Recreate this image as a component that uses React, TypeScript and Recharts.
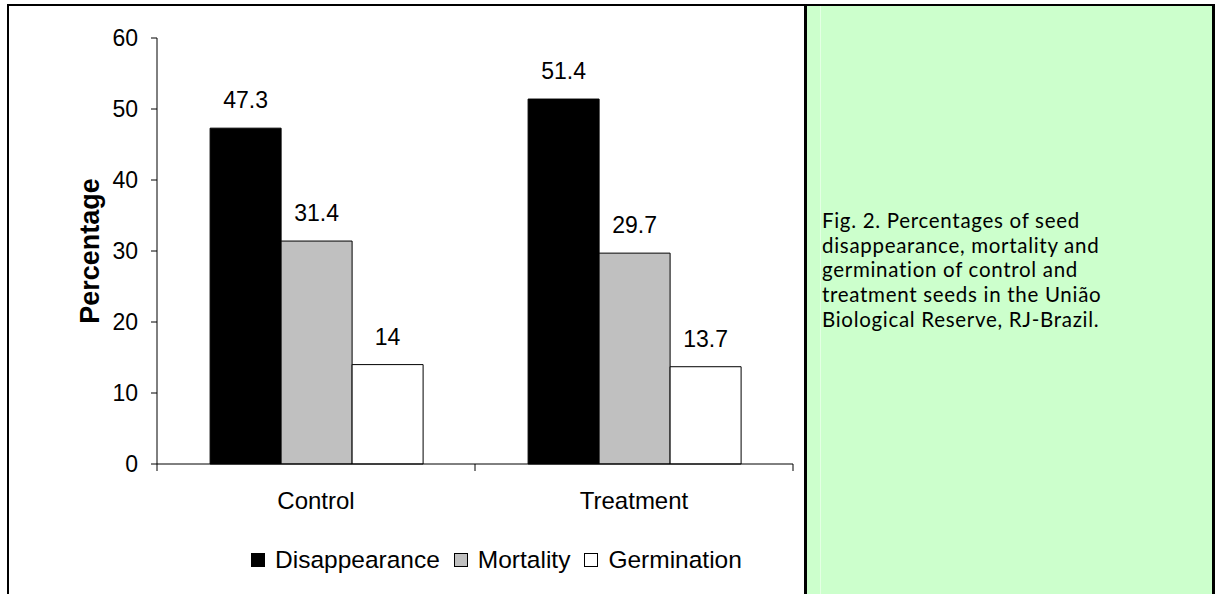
import { Bar, BarChart, LabelList, Legend, XAxis, YAxis } from "recharts"

// groups on the x axis
const categories = ["Control", "Treatment"]
// series (percentage of seeds)
const seriesNames = ["Disappearance", "Mortality", "Germination"]
const seriesColors = ["#000000", "#c0c0c0", "#ffffff"]
const disappearance = [47.3, 51.4]
const mortality = [31.4, 29.7]
const germination = [14, 13.7]
const yTicks = [0, 10, 20, 30, 40, 50, 60]

const captionLines = [
  "Fig. 2. Percentages of seed",
  "disappearance, mortality and",
  "germination of control and",
  "treatment seeds in the União",
  "Biological Reserve, RJ-Brazil.",
]

const data = categories.map((name, i) => ({
  name,
  Disappearance: disappearance[i],
  Mortality: mortality[i],
  Germination: germination[i],
}))

const FONT = "'Liberation Sans', Arial, sans-serif"

function CategoryTick(props: any) {
  const { x, y, payload, index, visibleTicksCount } = props
  const half = payload.offset || 0
  return (
    <g>
      <line x1={x - half} y1={y} x2={x - half} y2={y + 7} stroke="#000" />
      {index === visibleTicksCount - 1 && (
        <line x1={x + half} y1={y} x2={x + half} y2={y + 7} stroke="#000" />
      )}
      <text x={x} y={y + 45} textAnchor="middle" fontSize={24} fontFamily={FONT} fill="#000">
        {payload.value}
      </text>
    </g>
  )
}

function LegendContent(props: any) {
  const payload = [...(props.payload || [])].sort(
    (a: any, b: any) => seriesNames.indexOf(a.value) - seriesNames.indexOf(b.value)
  )
  return (
    <div style={{ display: "flex", alignItems: "center", fontFamily: FONT, fontSize: 24.5, color: "#000" }}>
      {payload.map((entry: any) => (
        <div key={entry.value} style={{ display: "flex", alignItems: "center", marginRight: 14 }}>
          <span
            style={{
              display: "inline-block",
              width: 12,
              height: 12,
              background: entry.color,
              border: "1px solid #000",
              marginRight: 10,
            }}
          />
          <span>{entry.value}</span>
        </div>
      ))}
    </div>
  )
}

export default function App() {
  return (
    <div
      style={{
        position: "absolute",
        left: 0,
        top: 0,
        width: 1216,
        height: 594,
        overflow: "hidden",
        background: "#fff",
      }}
    >
      {/* outer frame, no bottom edge visible */}
      <div
        style={{
          position: "absolute",
          left: 7,
          top: 4,
          width: 1203,
          height: 600,
          borderTop: "2px solid #000",
          borderLeft: "2px solid #000",
          borderRight: "3px solid #000",
        }}
      />
      {/* caption panel */}
      <div
        style={{
          position: "absolute",
          left: 804,
          top: 6,
          width: 408,
          height: 600,
          background: "#ccffcc",
          borderLeft: "3px solid #000",
          boxSizing: "border-box",
        }}
      >
        <div
          style={{
            position: "absolute",
            left: 13,
            top: 0,
            bottom: 0,
            borderLeft: "1px solid #e4ffe4",
          }}
        />
        <div
          style={{
            position: "absolute",
            left: 15,
            top: 202,
            fontFamily: "Lato, 'Open Sans', sans-serif",
            fontSize: 20.5,
            letterSpacing: 0.7,
            lineHeight: "24.7px",
            color: "#000",
          }}
        >
          {captionLines.map((l) => (
            <div key={l}>{l}</div>
          ))}
        </div>
      </div>

      <div style={{ position: "absolute", left: 0, top: 0 }}>
        <BarChart
          width={805}
          height={594}
          data={data}
          margin={{ top: 38, right: 12, left: 0, bottom: 70 }}
          barCategoryGap="16.7%"
          barGap={0}
        >
          <YAxis
            domain={[0, 60]}
            ticks={yTicks}
            width={157}
            tickSize={6}
            tickMargin={13}
            stroke="#000"
            tick={{ fill: "#000", fontSize: 23, fontFamily: FONT }}
            label={{
              value: "Percentage",
              content: ({ viewBox }: any) => (
                <text
                  x={viewBox.x + 90}
                  y={viewBox.y + viewBox.height / 2}
                  transform={`rotate(-90, ${viewBox.x + 90}, ${viewBox.y + viewBox.height / 2})`}
                  textAnchor="middle"
                  dominantBaseline="central"
                  fontSize={27}
                  fontWeight="bold"
                  fontFamily={FONT}
                  fill="#000"
                >
                  Percentage
                </text>
              ),
            }}
          />
          <XAxis
            dataKey="name"
            height={60}
            tickSize={0}
            tickMargin={0}
            tickLine={false}
            stroke="#000"
            tick={<CategoryTick />}
          />
          <Legend
            layout="horizontal"
            verticalAlign="middle"
            align="center"
            wrapperStyle={{ top: 546, left: 251, width: 540 }}
            content={<LegendContent />}
          />
          {seriesNames.map((s, i) => (
            <Bar key={s} dataKey={s} fill={seriesColors[i]} stroke="#000" isAnimationActive={false}>
              <LabelList dataKey={s} position="top" offset={20} fill="#000" fontSize={23} fontFamily={FONT} />
            </Bar>
          ))}
        </BarChart>
      </div>
    </div>
  )
}
